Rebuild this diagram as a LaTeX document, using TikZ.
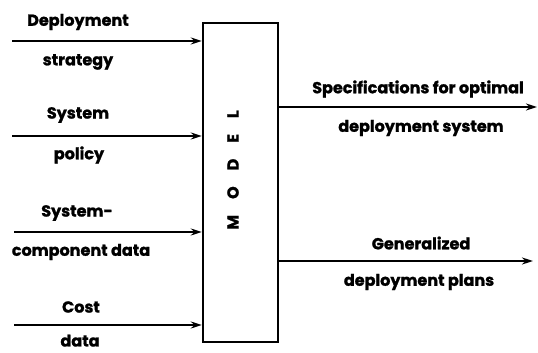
\documentclass[tikz,border=0pt]{standalone}
\usepackage{fontspec}
\setmainfont{Poppins}[FakeBold=1.3]
\usetikzlibrary{arrows.meta}
\begin{document}
\begin{tikzpicture}[x=1pt,y=1pt,
  lbl/.style={font=\fontsize{16}{18}\selectfont\bfseries, inner sep=0pt},
  arr/.style={line width=2.2pt,-{Stealth[length=11pt,width=7pt]}},
  box/.style={draw,line width=2.4pt,minimum width=75pt,minimum height=319pt,inner sep=0pt}]
\useasboundingbox (0,0) rectangle (538,353);
\node[box] (model) at (240.5,170.5) {};
\node[lbl,rotate=90] (mtext) at (233,183) {M\hspace{16pt}O\hspace{16pt}D\hspace{16pt}E\hspace{16pt}L};
% inputs
\coordinate (i1) at (12,312);
\coordinate (i2) at (12,217);
\coordinate (i3) at (14,121);
\coordinate (i4) at (14,28);
\draw[arr] (i1) -- (i1 -| model.west);
\draw[arr] (i2) -- (i2 -| model.west);
\draw[arr] (i3) -- (i3 -| model.west);
\draw[arr] (i4) -- (i4 -| model.west);
\node[lbl] (l1a) at (78,331) {Deployment};
\node[lbl] (l1b) at (78,291) {strategy};
\node[lbl] (l2a) at (78,238) {System};
\node[lbl] (l2b) at (79,198) {policy};
\node[lbl] (l3a) at (77,140) {System-};
\node[lbl] (l3b) at (81,101) {component data};
\node[lbl] (l4a) at (81,46) {Cost};
\node[lbl,anchor=base] (l4b) at (80,6.5) {data};
% outputs
\coordinate (o1) at (537,246);
\coordinate (o2) at (533,92);
\draw[arr] (o1 -| model.east) -- (o1);
\draw[arr] (o2 -| model.east) -- (o2);
\node[lbl] (r1a) at (418,264) {Specifications for optimal};
\node[lbl] (r1b) at (421,225) {deployment system};
\node[lbl] (r2a) at (421,110) {Generalized};
\node[lbl] (r2b) at (419,71) {deployment plans};
\end{tikzpicture}
\end{document}
